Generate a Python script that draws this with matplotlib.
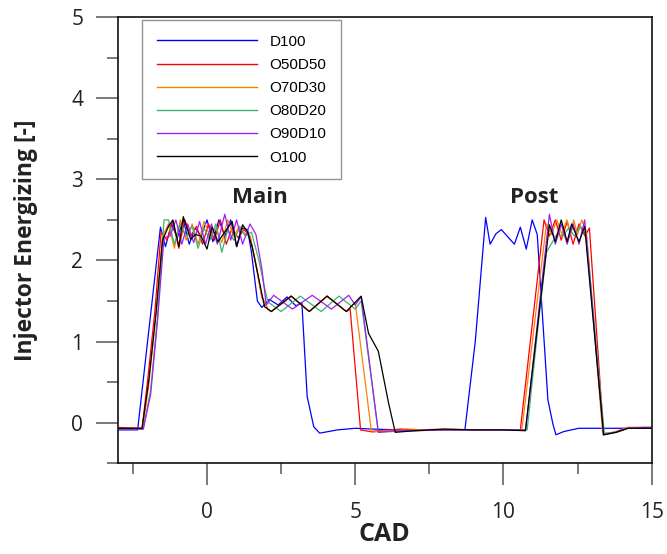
"""
Sinal de energização do injetor (D100 ... O100) ao longo do CAD
"""

import matplotlib
matplotlib.use("Agg")
import matplotlib.pyplot as plt
from matplotlib.ticker import MultipleLocator

# ---------------------------------------------------------------- dados
cad_d100 = [-3.0, -2.34, -1.57, -1.4, -1.2, -1.0, -0.8, -0.6, -0.4, -0.2, 0.0, 0.2, 0.4, 0.6,
            0.8, 1.0, 1.2, 1.37, 1.5, 1.7, 1.85, 2.1, 2.4, 2.7, 3.0, 3.2, 3.38, 3.6, 3.8, 4.4,
            5.0, 5.6, 6.5, 7.5, 8.7, 9.05, 9.4, 9.55, 9.75, 9.93, 10.37, 10.57, 10.77, 10.97,
            11.14, 11.5, 11.67, 11.77, 12.04, 12.54, 13.0, 14.0, 15.0]
inj_d100 = [-0.09, -0.09, 2.41, 2.17, 2.45, 2.28, 2.5, 2.2, 2.4, 2.3, 2.5, 2.23, 2.5, 2.3,
            2.5, 2.17, 2.4, 2.38, 2.1, 1.5, 1.42, 1.52, 1.45, 1.55, 1.44, 1.48, 0.32, -0.05, -0.13, -0.09,
            -0.07, -0.08, -0.09, -0.09, -0.09, 1.0, 2.53, 2.2, 2.33, 2.38, 2.2, 2.41, 2.14, 2.5,
            2.32, 0.28, -0.02, -0.15, -0.11, -0.07, -0.07, -0.07, -0.07]

cad_o50d50 = [-3.0, -2.19, -2.0, -1.75, -1.55, -1.35, -1.15, -0.95, -0.75, -0.55, -0.35, -0.15,
              0.05, 0.25, 0.45, 0.65, 0.85, 1.05, 1.25, 1.45, 1.65, 1.85, 2.05, 2.17, 2.84, 3.45,
              4.05, 4.7, 4.83, 5.18, 5.5, 6.5, 7.5, 8.5, 9.5, 10.2, 10.57, 11.37, 11.55, 11.75,
              11.95, 12.15, 12.35, 12.55, 12.75, 12.9, 13.38, 13.8, 14.2, 14.7, 15.0]
inj_o50d50 = [-0.06, -0.07, 0.53, 1.4, 2.35, 2.25, 2.48, 2.15, 2.5, 2.3, 2.42, 2.2,
              2.45, 2.25, 2.5, 2.2, 2.4, 2.28, 2.38, 2.3, 1.95, 1.55, 1.4, 1.37, 1.56, 1.37,
              1.56, 1.37, 1.4, -0.09, -0.11, -0.08, -0.09, -0.09, -0.09, -0.09, -0.09, 2.5, 2.3, 2.5,
              2.25, 2.48, 2.2, 2.45, 2.3, 2.4, -0.15, -0.11, -0.06, -0.06, -0.06]

cad_o70d30 = [-3.0, -2.17, -1.97, -1.72, -1.5, -1.3, -1.1, -0.9, -0.7, -0.5, -0.3, -0.1,
              0.1, 0.3, 0.5, 0.7, 0.9, 1.1, 1.3, 1.45, 1.65, 1.85, 2.05, 2.17, 2.84, 3.45,
              4.05, 4.7, 5.0, 5.55, 6.0, 7.0, 8.0, 9.0, 10.0, 10.62, 11.45, 11.62, 11.8, 11.97,
              12.14, 12.27, 12.37, 12.5, 12.64, 12.8, 13.35, 13.8, 14.2, 14.7, 15.0]
inj_o70d30 = [-0.07, -0.07, 0.45, 1.33, 2.3, 2.45, 2.15, 2.5, 2.25, 2.45, 2.2, 2.48,
              2.3, 2.4, 2.22, 2.5, 2.3, 2.42, 2.32, 2.3, 1.95, 1.55, 1.4, 1.37, 1.56, 1.37,
              1.56, 1.37, 1.48, -0.12, -0.1, -0.09, -0.08, -0.09, -0.09, -0.09, 2.45, 2.32, 2.5, 2.32,
              2.5, 2.32, 2.5, 2.32, 2.5, 2.35, -0.15, -0.11, -0.06, -0.06, -0.06]

cad_o80d20 = [-3.0, -2.15, -1.9, -1.67, -1.45, -1.3, -1.1, -0.9, -0.7, -0.5, -0.3, -0.1,
              0.1, 0.3, 0.5, 0.7, 0.9, 1.1, 1.3, 1.5, 1.75, 1.95, 2.05, 2.5, 3.15, 3.85,
              4.45, 5.0, 5.2, 5.78, 6.3, 7.0, 8.0, 9.0, 10.0, 10.8, 11.2, 11.45, 11.8, 12.0,
              12.2, 12.4, 12.6, 12.8, 13.4, 13.8, 14.2, 14.7, 15.0]
inj_o80d20 = [-0.08, -0.08, 0.4, 1.3, 2.5, 2.5, 2.2, 2.45, 2.3, 2.42, 2.15, 2.4,
              2.25, 2.45, 2.1, 2.38, 2.25, 2.4, 2.3, 2.35, 2.0, 1.65, 1.49, 1.37, 1.56, 1.37,
              1.56, 1.4, 1.5, -0.12, -0.11, -0.1, -0.09, -0.09, -0.09, -0.09, 1.3, 2.1, 2.32, 2.3,
              2.4, 2.3, 2.42, 2.3, -0.13, -0.12, -0.07, -0.06, -0.06]

cad_o90d10 = [-3.0, -2.15, -1.9, -1.67, -1.45, -1.25, -1.05, -0.85, -0.65, -0.45, -0.25, -0.05,
              0.15, 0.35, 0.6, 0.8, 1.0, 1.2, 1.45, 1.65, 1.85, 2.0, 2.25, 2.88, 3.55, 4.2,
              4.78, 5.0, 5.2, 5.78, 6.3, 7.0, 8.0, 9.0, 10.0, 10.75, 11.55, 11.75, 11.95, 12.15,
              12.35, 12.55, 12.74, 13.38, 13.8, 14.2, 14.7, 15.0]
inj_o90d10 = [-0.08, -0.08, 0.35, 1.25, 2.28, 2.3, 2.5, 2.2, 2.45, 2.22, 2.48, 2.2,
              2.45, 2.2, 2.57, 2.25, 2.5, 2.2, 2.45, 2.32, 1.9, 1.45, 1.57, 1.4, 1.57, 1.4,
              1.57, 1.45, 1.55, -0.12, -0.1, -0.1, -0.09, -0.09, -0.09, -0.09, 2.57, 2.2, 2.45, 2.2,
              2.45, 2.2, 2.5, -0.15, -0.12, -0.07, -0.06, -0.06]

cad_o100 = [-3.0, -2.19, -1.97, -1.72, -1.5, -1.3, -1.15, -0.95, -0.8, -0.55, -0.4, -0.2,
            0.0, 0.17, 0.37, 0.6, 0.85, 1.0, 1.2, 1.37, 1.53, 1.94, 2.17, 2.84, 3.45, 4.05,
            4.7, 5.2, 5.45, 5.78, 6.12, 6.35, 7.0, 8.0, 9.0, 10.0, 10.74, 11.55, 11.75, 11.95,
            12.15, 12.3, 12.55, 12.74, 13.38, 13.8, 14.2, 15.0]
inj_o100 = [-0.07, -0.07, 0.5, 1.35, 2.25, 2.42, 2.5, 2.17, 2.54, 2.26, 2.32, 2.3,
            2.14, 2.41, 2.23, 2.35, 2.48, 2.17, 2.44, 2.35, 2.16, 1.43, 1.37, 1.56, 1.37, 1.56,
            1.37, 1.56, 1.1, 0.88, 0.25, -0.12, -0.1, -0.08, -0.09, -0.09, -0.1, 2.44, 2.23, 2.5,
            2.23, 2.45, 2.23, 2.42, -0.15, -0.12, -0.07, -0.07]

series = [
    ("D100", cad_d100, inj_d100, "#0000ff"),
    ("O50D50", cad_o50d50, inj_o50d50, "#ff0000"),
    ("O70D30", cad_o70d30, inj_o70d30, "#ff8000"),
    ("O80D20", cad_o80d20, inj_o80d20, "#3cb371"),
    ("O90D10", cad_o90d10, inj_o90d10, "#a020f0"),
    ("O100", cad_o100, inj_o100, "#000000"),
]

# ---------------------------------------------------------------- gráfico
fig = plt.figure(figsize=(6.67, 5.54), dpi=100)
ax = fig.add_axes([0.177, 0.164, 0.8, 0.805])

for nome, x, y, cor in series:
    ax.plot(x, y, color=cor, lw=0.9, label=nome)

ax.set_xlim(-3, 15)
ax.set_ylim(-0.5, 5)
ax.xaxis.set_major_locator(MultipleLocator(5))
ax.xaxis.set_minor_locator(MultipleLocator(2.5))
ax.yaxis.set_major_locator(MultipleLocator(1))
ax.yaxis.set_minor_locator(MultipleLocator(0.5))

ax.tick_params(which="major", direction="out", length=16, width=1.1, color="#555555",
               labelsize=15, labelcolor="#222222")
ax.tick_params(which="minor", direction="out", length=8, width=1.1, color="#555555")
ax.tick_params(axis="x", which="major", pad=12)
ax.tick_params(axis="y", which="major", pad=9)
for lab in ax.get_xticklabels() + ax.get_yticklabels():
    lab.set_fontfamily("Open Sans")
for s in ax.spines.values():
    s.set_linewidth(1.2)
    s.set_color("#111111")

ax.set_xlabel("CAD", fontsize=18, fontweight="bold", family="Open Sans", color="#222222",
              labelpad=-1)
ax.set_ylabel("Injector Energizing [-]", fontsize=16.5, fontweight="bold", family="Open Sans",
              color="#222222", labelpad=24)

ax.text(1.77, 2.77, "Main", fontsize=16, fontweight="bold", family="Open Sans",
        color="#222222", ha="center", va="center")
ax.text(11.04, 2.77, "Post", fontsize=16, fontweight="bold", family="Open Sans",
        color="#222222", ha="center", va="center")

leg = ax.legend(loc="upper left", bbox_to_anchor=(0.045, 0.993), frameon=True, fancybox=False,
                prop={"family": "Liberation Sans", "size": 11}, handlelength=6.6,
                handletextpad=0.8, labelspacing=0.6, borderpad=0.95, borderaxespad=0)
leg.get_frame().set_edgecolor("#777777")
leg.get_frame().set_linewidth(1.0)
for linha in leg.get_lines():
    linha.set_linewidth(1.0)

fig.savefig("out.png", dpi=100)
